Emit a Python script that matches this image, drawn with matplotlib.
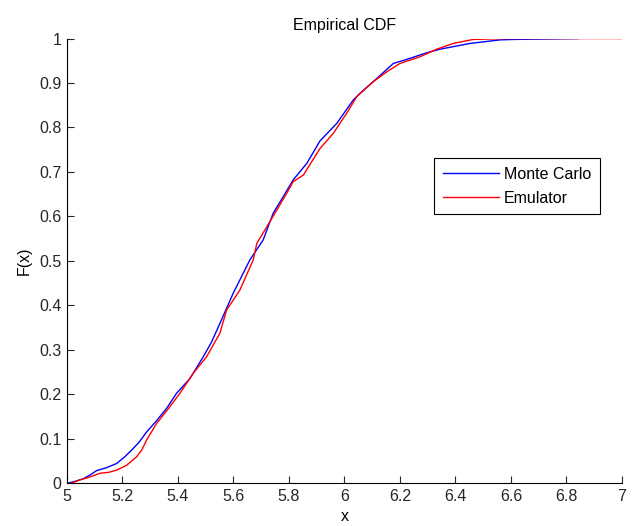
import matplotlib.pyplot as plt

plt.rcParams['font.family'] = ['Liberation Sans', 'DejaVu Sans']

# Monte Carlo empirical CDF
mc_x = [5.005, 5.03, 5.06, 5.083, 5.107, 5.14, 5.179, 5.21, 5.239, 5.26, 5.287,
        5.32, 5.359, 5.395, 5.443, 5.491, 5.52, 5.551, 5.599, 5.635, 5.659,
        5.707, 5.743, 5.779, 5.815, 5.864, 5.912, 5.972, 6.032, 6.056, 6.116,
        6.176, 6.224, 6.296, 6.344, 6.452, 6.56, 6.608, 6.843]
mc_F = [0.0, 0.004, 0.01, 0.018, 0.028, 0.034, 0.044, 0.06, 0.078, 0.092, 0.115,
        0.138, 0.168, 0.202, 0.235, 0.284, 0.316, 0.359, 0.427, 0.472, 0.502,
        0.547, 0.607, 0.644, 0.682, 0.719, 0.77, 0.809, 0.862, 0.877, 0.91,
        0.944, 0.953, 0.968, 0.976, 0.989, 0.997, 0.998, 1.0]

# Emulator empirical CDF
em_x = [5.017, 5.047, 5.08, 5.119, 5.15, 5.179, 5.215, 5.251, 5.27, 5.287, 5.323,
        5.371, 5.407, 5.455, 5.503, 5.551, 5.575, 5.623, 5.671, 5.684, 5.756,
        5.792, 5.815, 5.852, 5.912, 5.96, 6.008, 6.044, 6.104, 6.152, 6.2,
        6.272, 6.332, 6.392, 6.464, 6.585, 6.998]
em_F = [0.0, 0.007, 0.013, 0.022, 0.024, 0.029, 0.04, 0.059, 0.075, 0.097, 0.134,
        0.172, 0.202, 0.247, 0.284, 0.337, 0.389, 0.434, 0.502, 0.539, 0.614,
        0.652, 0.678, 0.693, 0.753, 0.787, 0.832, 0.869, 0.903, 0.925, 0.944,
        0.959, 0.976, 0.989, 0.998, 1.0, 1.0]

fs = 11.5

fig = plt.figure(figsize=(6.35, 5.26), dpi=100)
ax = fig.add_axes([0.1055, 0.0817, 0.874, 0.845])

ax.plot(mc_x, mc_F, color='#0000ff', lw=1.0, label='Monte Carlo')
ax.plot(em_x, em_F, color='#ff0000', lw=1.0, label='Emulator')

ax.set_xlim(5, 7)
ax.set_ylim(0, 1)
ax.set_xticks([5 + 0.2 * i for i in range(11)])
ax.set_xticklabels(['5', '5.2', '5.4', '5.6', '5.8', '6', '6.2', '6.4', '6.6', '6.8', '7'])
ax.set_yticks([0.1 * i for i in range(11)])
ax.set_yticklabels(['0', '0.1', '0.2', '0.3', '0.4', '0.5', '0.6', '0.7', '0.8', '0.9', '1'])
ax.tick_params(direction='in', length=5, labelsize=fs, colors='#262626', pad=4)
ax.spines['top'].set_visible(False)
ax.spines['right'].set_visible(False)

ax.set_title('Empirical CDF', fontsize=fs, pad=6)
ax.set_xlabel('x', fontsize=fs, labelpad=4)
ax.set_ylabel('F(x)', fontsize=fs, labelpad=5)

leg = ax.legend(loc='upper left', bbox_to_anchor=(0.661, 0.731), fontsize=fs,
                handlelength=3.5, fancybox=False, framealpha=1, borderaxespad=0,
                handletextpad=0.35, labelspacing=0.55, borderpad=0.55)
leg.get_frame().set_edgecolor('black')
leg.get_frame().set_linewidth(0.8)

fig.savefig('out.png', dpi=100)
